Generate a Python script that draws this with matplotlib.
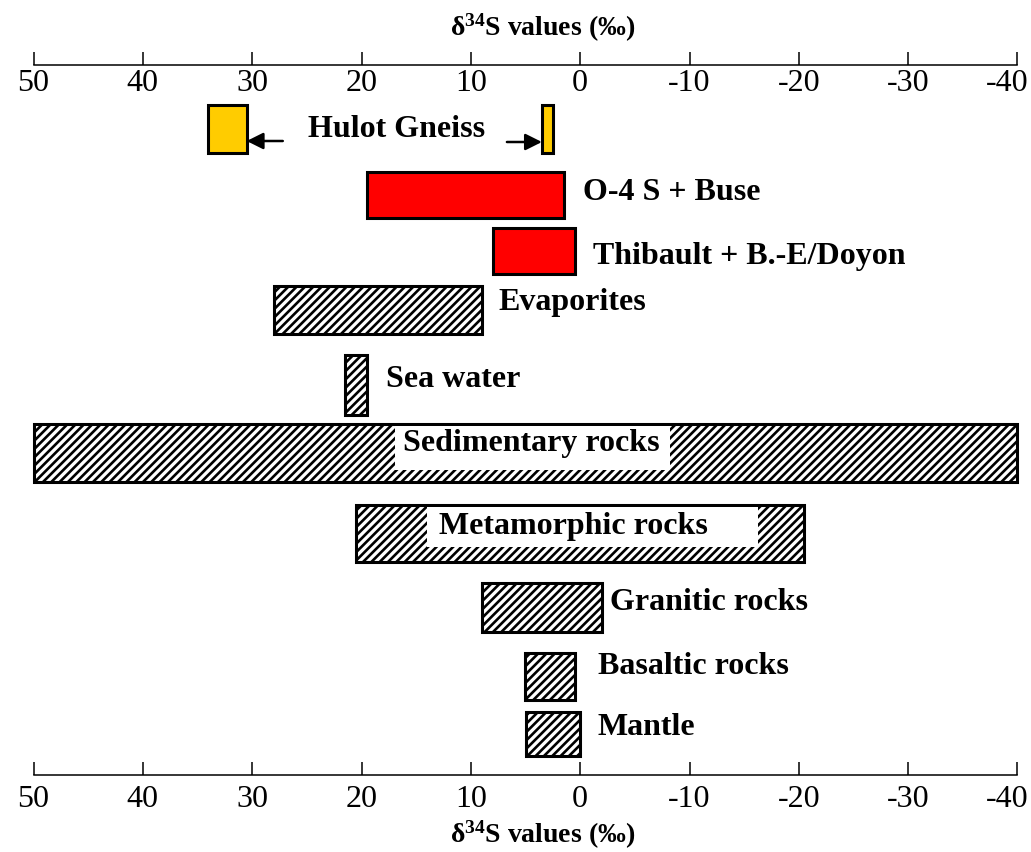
import matplotlib
matplotlib.use("Agg")
import matplotlib.pyplot as plt
import matplotlib.transforms as mtransforms
from matplotlib.patches import Rectangle
import numpy as np

plt.rcParams["font.family"] = ["Liberation Serif", "DejaVu Serif"]
plt.rcParams["mathtext.default"] = "regular"
plt.rcParams["axes.unicode_minus"] = False
plt.rcParams["hatch.linewidth"] = 1.9

# delta34S ranges (permil), high and low end of each bar
hulot_max = [34.0, 3.5]
hulot_min = [30.5, 2.5]

study_names = ["O-4 S + Buse", "Thibault + B.-E/Doyon"]
study_max = [19.5, 8.0]
study_min = [1.5, 0.5]

ref_names = ["Evaporites", "Sea water", "Sedimentary rocks", "Metamorphic rocks",
             "Granitic rocks", "Basaltic rocks", "Mantle"]
ref_max = [28.0, 21.5, 50.0, 20.5, 9.0, 5.0, 5.0]
ref_min = [9.0, 19.5, -40.0, -20.5, -2.0, 0.5, 0.0]

x_ticks = [50, 40, 30, 20, 10, 0, -10, -20, -30, -40]

# row layout (vertical centre / thickness, in axis units running top to bottom)
hulot_y, hulot_h = 129.5, 48
study_y = [195, 251.5]
study_h = [46, 46]
ref_y = [310, 385, 453, 533.5, 607.5, 676.5, 734]
ref_h = [48, 60, 58, 57, 49, 47, 44]
# label anchors: x of left edge (None = centred in the bar), y of centre
study_lx = [-0.3, -1.2]
study_ly = [193, 257]
ref_lx = [7.5, 17.8, None, None, -2.7, -1.6, -1.6]
ref_ly = [303, 380, 444, 527, 603, 667, 728]
ref_cx = [None, None, 4.5, 0.6, None, None, None]
# white panels behind the labels written inside the wide bars: x0, x1, y0, y1
ref_panel = [None, None, (16.9, -8.2, 426, 470), (14.0, -16.3, 507, 547),
             None, None, None]

fig = plt.figure(figsize=(10.31, 8.52), dpi=100)
ax = fig.add_axes([33.5 / 1031, 1 - 775 / 852, 984 / 1031, 710 / 852])
ax.set_xlim(50, -40)
ax.set_ylim(775, 65)

lw = 2.2
fs = 23

# Hulot Gneiss (two small yellow boxes)
lo = np.array(hulot_min)
hi = np.array(hulot_max)
ax.barh([hulot_y] * 2, hi - lo, left=lo, height=hulot_h, color="#FFCC00",
        edgecolor="black", linewidth=lw, clip_on=False)
ax.text(24.9, hulot_y, "Hulot Gneiss", fontsize=fs, fontweight="bold",
        ha="left", va="center")
arrow = dict(arrowstyle="-|>,head_length=0.5,head_width=0.25", color="black",
             lw=1.8, shrinkA=0, shrinkB=0, mutation_scale=20)
ax.annotate("", xy=(hulot_min[0], 141), xytext=(27.2, 141), arrowprops=arrow)
ax.annotate("", xy=(hulot_max[1], 142), xytext=(6.7, 142), arrowprops=arrow)

# sulphides from the deposits (red)
lo = np.array(study_min)
hi = np.array(study_max)
ax.barh(study_y, hi - lo, left=lo, height=study_h, color="#FF0000",
        edgecolor="black", linewidth=lw, clip_on=False)
for name, x, y in zip(study_names, study_lx, study_ly):
    ax.text(x, y, name, fontsize=fs, fontweight="bold", ha="left", va="center")

# natural sulphur reservoirs (hatched)
lo = np.array(ref_min)
hi = np.array(ref_max)
ax.barh(ref_y, hi - lo, left=lo, height=ref_h, color="white", hatch="////",
        edgecolor="black", linewidth=lw, clip_on=False)
for name, x, cx, y, panel in zip(ref_names, ref_lx, ref_cx, ref_ly, ref_panel):
    if panel is not None:
        x0, x1, y0, y1 = panel
        ax.add_patch(Rectangle((x1, y0), x0 - x1, y1 - y0, facecolor="white",
                               edgecolor="none", zorder=3))
        ax.text(cx, y, name, fontsize=fs, fontweight="bold", ha="center",
                va="center", zorder=4)
    else:
        ax.text(x, y, name, fontsize=fs, fontweight="bold", ha="left", va="center")

# bottom scale: ticks point up, labels underneath
for side in ["left", "right", "top"]:
    ax.spines[side].set_visible(False)
ax.spines["bottom"].set_linewidth(1.1)
ax.set_yticks([])
ax.set_xticks(x_ticks)
ax.tick_params(axis="x", direction="in", length=9.5, width=1.1, pad=7,
               labelsize=fs)

# top scale: ticks point up, labels underneath as well
ax2 = ax.twiny()
ax2.set_xlim(ax.get_xlim())
for side in ["left", "right", "bottom"]:
    ax2.spines[side].set_visible(False)
ax2.spines["top"].set_linewidth(1.1)
ax2.set_xticks(x_ticks)
ax2.tick_params(axis="x", direction="out", length=9.5, width=1.1, pad=-33,
                labelsize=fs)

# keep the last label (-40) inside the figure
nudge = mtransforms.ScaledTranslation(-0.1, 0, fig.dpi_scale_trans)
for a in (ax, ax2):
    fig.canvas.draw()
    lab = a.get_xticklabels()[-1]
    lab.set_transform(lab.get_transform() + nudge)

title = "δ$^{34}$S values (‰)"
fig.text(543 / 1031, 1 - 28 / 852, title, fontsize=20, fontweight="bold",
         ha="center", va="center")
fig.text(543 / 1031, 1 - 835 / 852, title, fontsize=20, fontweight="bold",
         ha="center", va="center")

fig.savefig("out.png", dpi=100, facecolor="white")
